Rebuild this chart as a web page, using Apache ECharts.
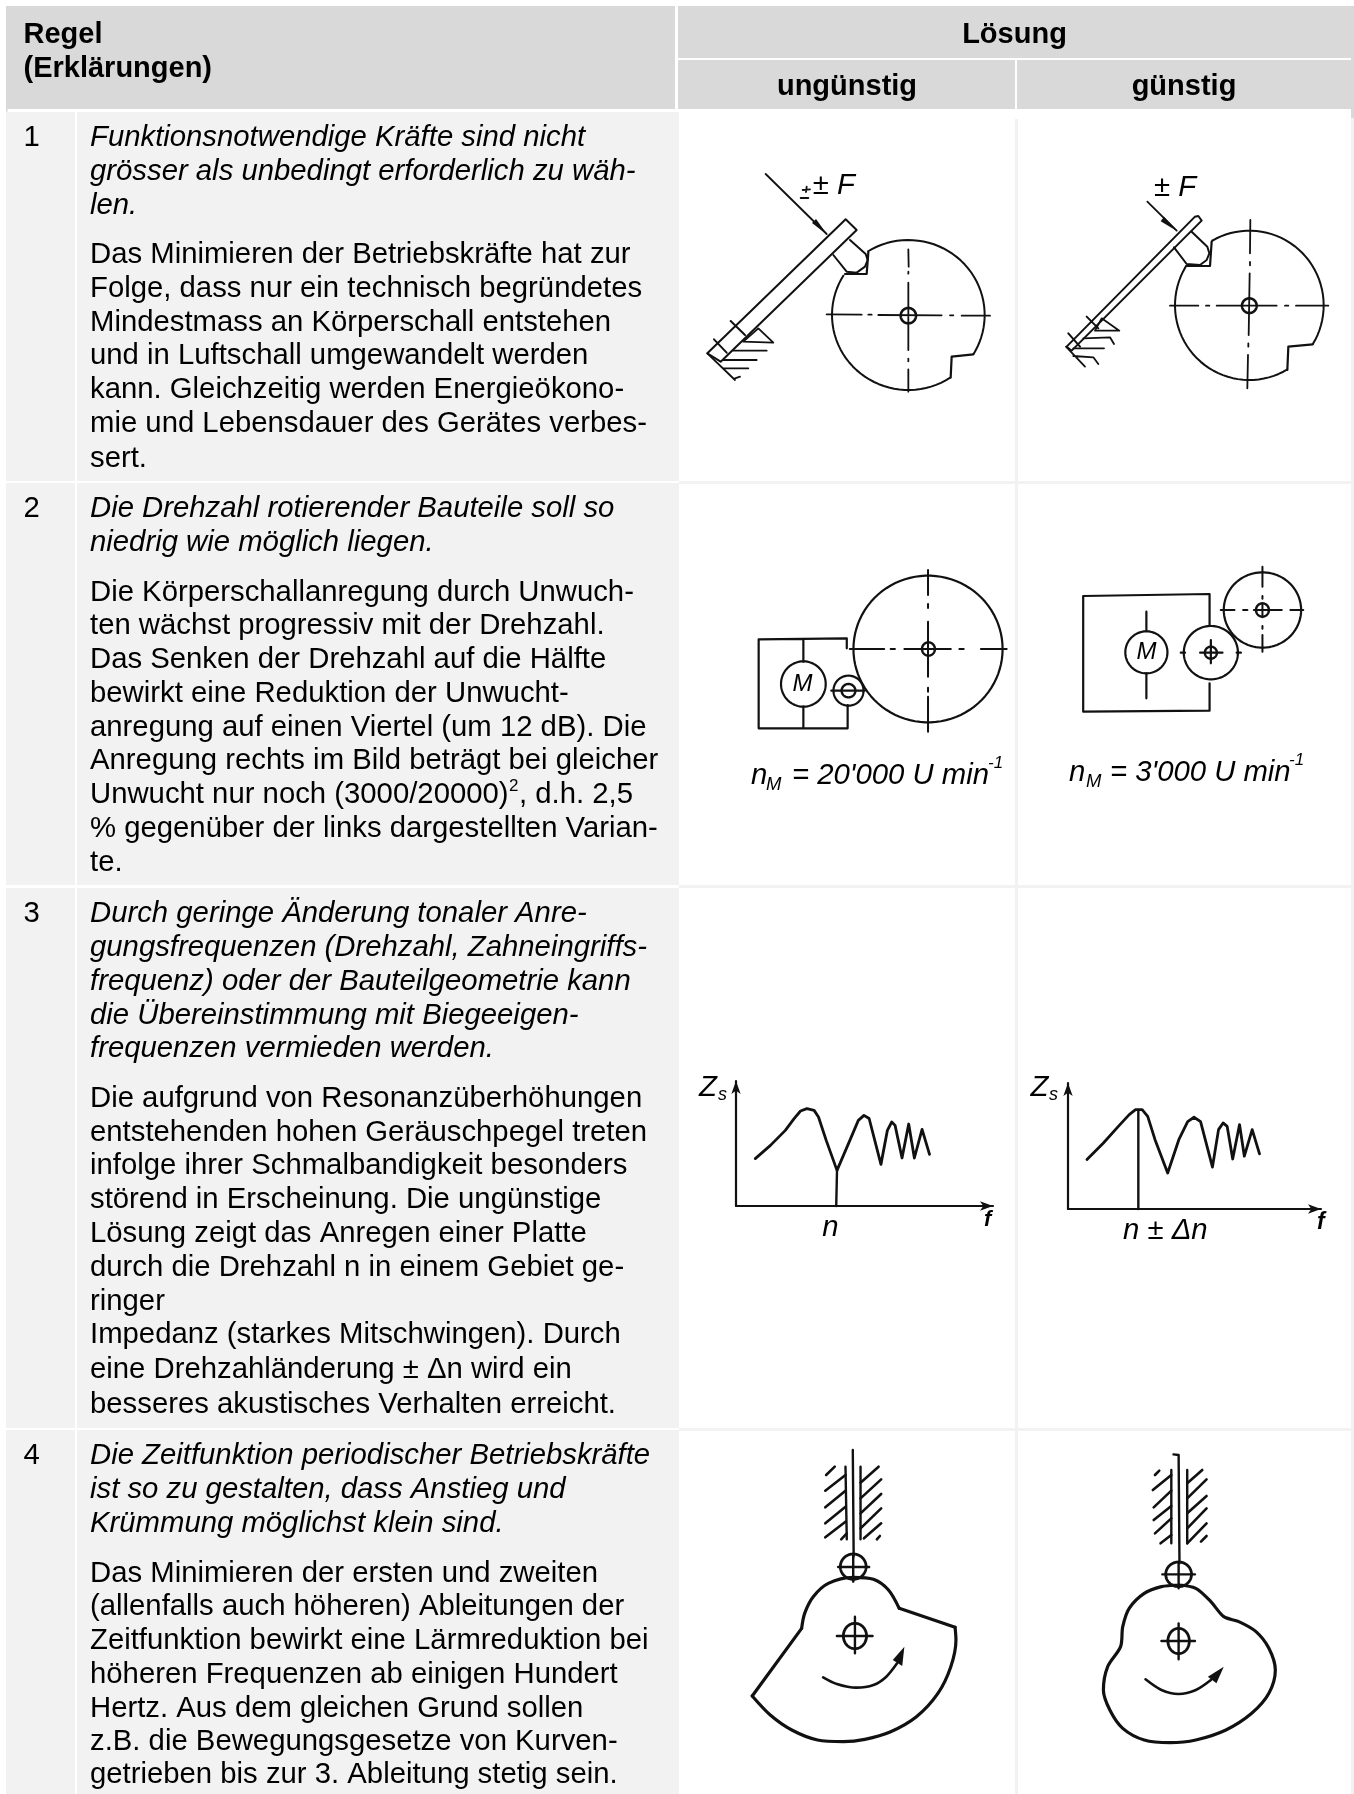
<!DOCTYPE html>
<html>
<head>
<meta charset="utf-8">
<style>html,body{margin:0;padding:0;background:#fff}#chart{width:1354px;height:1794px}</style>
<script src="https://cdn.jsdelivr.net/npm/echarts@6/dist/echarts.min.js"></script>
</head>
<body>
<div id="chart"></div>
<script>
// table text
const rowNumbers = ['1', '2', '3', '4']
const rule1Lead = ['Funktionsnotwendige Kräfte sind nicht', 'grösser als unbedingt erforderlich zu wäh-', 'len.']
const rule1Body = ['Das Minimieren der Betriebskräfte hat zur', 'Folge, dass nur ein technisch begründetes', 'Mindestmass an Körperschall entstehen', 'und in Luftschall umgewandelt werden', 'kann. Gleichzeitig werden Energieökono-', 'mie und Lebensdauer des Gerätes verbes-', 'sert.']
const rule2Lead = ['Die Drehzahl rotierender Bauteile soll so', 'niedrig wie möglich liegen.']
const rule2Body = ['Die Körperschallanregung durch Unwuch-', 'ten wächst progressiv mit der Drehzahl.', 'Das Senken der Drehzahl auf die Hälfte', 'bewirkt eine Reduktion der Unwucht-', 'anregung auf einen Viertel (um 12 dB). Die', 'Anregung rechts im Bild beträgt bei gleicher', 'Unwucht nur noch (3000/20000)', '% gegenüber der links dargestellten Varian-', 'te.']
const rule3Lead = ['Durch geringe Änderung tonaler Anre-', 'gungsfrequenzen (Drehzahl, Zahneingriffs-', 'frequenz) oder der Bauteilgeometrie kann', 'die Übereinstimmung mit Biegeeigen-', 'frequenzen vermieden werden.']
const rule3Body = ['Die aufgrund von Resonanzüberhöhungen', 'entstehenden hohen Geräuschpegel treten', 'infolge ihrer Schmalbandigkeit besonders', 'störend in Erscheinung. Die ungünstige', 'Lösung zeigt das Anregen einer Platte', 'durch die Drehzahl n in einem Gebiet ge-', 'ringer', 'Impedanz (starkes Mitschwingen). Durch', 'eine Drehzahländerung ± Δn wird ein', 'besseres akustisches Verhalten erreicht.']
const rule4Lead = ['Die Zeitfunktion periodischer Betriebskräfte', 'ist so zu gestalten, dass Anstieg und', 'Krümmung möglichst klein sind.']
const rule4Body = ['Das Minimieren der ersten und zweiten', '(allenfalls auch höheren) Ableitungen der', 'Zeitfunktion bewirkt eine Lärmreduktion bei', 'höheren Frequenzen ab einigen Hundert', 'Hertz. Aus dem gleichen Grund sollen', 'z.B. die Bewegungsgesetze von Kurven-', 'getrieben bis zur 3. Ableitung stetig sein.']

// row 3: impedance curves, axes run 0..100
const impedanceLeft = [[7.5,37.9],[13.4,48.5],[19.2,60.5],[22.6,69.9],[25.1,76],[27.6,77.9],[30.4,76.5],[32.1,71.2],[35.1,52.5],[39.3,28.5],[44.3,52.5],[47.6,68.5],[49.8,72.5],[51.8,70],[56.4,33.3],[58.9,60.5],[60.6,67.2],[61.9,64.5],[64.6,38.4],[67.2,65.6],[69.4,38.4],[72.4,61.3],[75.3,41.3]]
const impedanceRight = [[7.5,39.2],[14,52.4],[19.9,65.6],[24.2,74.9],[26.7,78.8],[29.3,78.8],[31.5,73.5],[34.4,55],[39.4,28.6],[43.8,55],[47.3,69.4],[49.8,72.8],[52.4,69.4],[57.1,33.3],[59.5,63],[61.3,68.3],[62.9,65.6],[65.1,39.7],[67.8,67],[69.7,41.9],[72.8,63],[75.7,43.7]]
const speedLeft = [[39,0],[39.3,28.5]]
const speedRight = [[27.8,0],[27.8,78.5]]

// drawings in row 1: shapes in crop units (0..960, 0..720)
const lever1L = [[[22,580],[437,178],[470,210],[62,605],[22,580]], [[92,483],[135,525]], [[42,538],[80,578]]]
const tappet1L = [[[450,240],[497,282],[503,300],[495,320],[470,338],[440,335],[400,285]]]
const force1L = [[[197,42],[380,222]], [[308,90],[330,88]], [[320,80],[318,96]], [[302,114],[325,114]]]
const hatch1L = [[[130,545],[175,505],[220,548],[130,545]], [[100,572],[200,572]], [[70,600],[170,600]], [[70,625],[145,625]], [[22,580],[105,660]], [[105,655],[120,650]]]
const notch1L = [[[505,277],[500,342],[435,342]], [[820,583],[755,590],[752,653]]]
const centre1L = [[[380,463],[485,464]], [[505,464],[515,464]], [[535,465],[725,466]], [[750,466],[760,466]], [[785,467],[870,467]], [[625,268],[626,320]], [[625,335],[625,341]], [[625,368],[625,570]], [[625,596],[625,604]], [[625,628],[625,695]]]
const lever1R = [[[495,170],[110,560],[125,572],[515,182],[505,168],[495,170]], [[170,470],[205,505]], [[115,520],[150,560]]]
const tappet1R = [[[485,215],[532,260],[538,280],[530,300],[510,315],[470,312],[432,262]]]
const force1R = [[[352,125],[440,212]]]
const hatch1R = [[[195,512],[215,475],[268,512],[195,512]], [[160,535],[240,532],[252,552]], [[130,565],[222,565]], [[130,588],[190,592],[205,612]], [[108,560],[165,620]]]
const notch1R = [[[545,245],[540,318],[470,318]], [[848,553],[775,560],[772,630]]]
const centre1R = [[[420,437],[505,437]], [[528,437],[538,437]], [[560,437],[740,437]], [[765,437],[775,437]], [[798,437],[895,437]], [[661,180],[660,280]], [[660,306],[660,316]], [[659,340],[656,525]], [[655,550],[655,560]], [[654,585],[652,685]]]
const discs1 = [[625,465,229,225,237.5,391.6], [625,465,229,225,56.7,212.3]]
const discs1b = [[658,436,223,224,239.5,391.6], [658,436,223,224,58.8,212.3]]
const holes1 = [[625,467,23,23,0,360]]
const holes1b = [[658,437,22,22,0,360]]
const arrowheads1 = [[382,224,348,177,336,189]]
const arrowheads1b = [[442,214,402,170,392,184]]

// drawings in row 2: shapes in crop units (0..1568, 0..930)
const gearbox2L = [[[388,385],[388,355],[183,358],[183,625],[390,625],[390,555]], [[287,360],[287,425]], [[287,560],[287,625]], [[352,512],[430,512]]]
const centre2L = [[[395,387],[475,387]], [[490,387],[500,387]], [[522,387],[630,387]], [[650,387],[660,387]], [[700,387],[760,387]], [[577,150],[577,225]], [[577,252],[577,264]], [[577,305],[577,470]], [[577,503],[577,515]], [[577,530],[577,635]]]
const gearbox2R = [[[1232,315],[1232,222],[938,228],[938,575],[1232,572],[1232,490]], [[1085,275],[1085,333]], [[1085,460],[1085,535]], [[1210,398],[1262,398]], [[1235,360],[1235,430]], [[1165,398],[1175,398]], [[1295,398],[1305,398]]]
const centre2R = [[[1258,270],[1290,270]], [[1310,270],[1320,270]], [[1335,270],[1400,270]], [[1420,270],[1450,270]], [[1355,140],[1355,200]], [[1355,228],[1355,236]], [[1355,250],[1355,292]], [[1355,318],[1355,326]], [[1355,345],[1355,395]]]
const circles2 = [[577,387,173.5,220,0,360], [287,492,52,68,0,360], [392,512,35,45,0,360], [1085,397,49,63,0,360], [1235,398,63,80,0,360], [1355,270,90,113,0,360]]
const holes2 = [[578,387,15,20,0,360], [392,512,16,20,0,360], [1235,398,14,18,0,360], [1355,270,15,20,0,360]]

// drawings in row 4: shapes in crop units (0..1568, 0..1122)
const followerL = [[[402,90],[404,410]], [[385,140],[388,358]], [[420,140],[420,358]], [[368,441],[440,441]], [[403,405],[403,485]], [[365,648],[448,648]], [[407,590],[407,700]]]
const hatchL = [[[360,140],[340,165]], [[385,165],[338,212]], [[385,212],[338,262]], [[385,260],[338,310]], [[385,305],[338,352]], [[388,340],[375,358]], [[462,140],[420,188]], [[468,178],[420,235]], [[468,222],[420,280]], [[468,265],[420,325]], [[468,310],[428,355]], [[465,348],[458,358]]]
const camFlatsL = [[[510,565],[640,622]], [[168,828],[283,625]]]
const camTopL = [[283,625],[290,580],[310,530],[345,490],[403,472],[450,478],[485,510],[510,565]]
const camBottomL = [[640,622],[642,660],[630,740],[600,820],[550,890],[490,935],[430,958],[380,965],[320,960],[260,930],[210,885],[168,828]]
const turnL = [[333,772],[365,792],[410,803],[450,795],[480,770],[505,730]]
const followerR = [[[1148,103],[1160,105],[1162,430]], [[1143,150],[1143,370]], [[1180,150],[1180,370]], [[1122,463],[1198,463]], [[1160,430],[1160,505]], [[1120,663],[1198,663]], [[1160,610],[1160,718]]]
const hatchR = [[[1115,152],[1105,165]], [[1143,165],[1100,210]], [[1143,212],[1102,262]], [[1143,258],[1102,300]], [[1143,295],[1105,340]], [[1143,345],[1118,370]], [[1215,150],[1180,190]], [[1225,178],[1180,235]], [[1225,228],[1180,280]], [[1225,265],[1180,325]], [[1225,310],[1180,370]], [[1225,348],[1212,365]]]
const camR = [[1160,495],[1200,505],[1235,545],[1265,590],[1300,605],[1340,635],[1370,685],[1385,750],[1370,820],[1330,880],[1270,930],[1200,960],[1140,968],[1080,960],[1030,925],[1000,870],[985,810],[995,740],[1025,680],[1030,620],[1045,565],[1080,520],[1120,500],[1160,495]]
const turnR = [[1083,778],[1120,810],[1160,822],[1200,810],[1235,780]]
const rollers4 = [[403,440,30,38,0,360], [407,648,27,38,0,360], [1160,463,30,37,0,360], [1160,663,25,38,0,360]]
const arrowheads4 = [[522,680,495,720,517,738], [1265,740,1228,770,1248,790]]

const chart = echarts.init(document.getElementById('chart'), null, { renderer: 'canvas' })

const sans = "'Liberation Sans', Arial, sans-serif"
const bodySize = 29.3
const headSize = 29
const INK = '#111'

function text(str, x, baseline, size, opts = {}) {
  const style = opts.italic ? 'italic ' : ''
  const weight = opts.bold ? 'bold ' : ''
  return {
    type: 'text',
    x,
    y: baseline - size * 0.3,
    silent: true,
    style: {
      text: str,
      font: style + weight + size + 'px ' + sans,
      fill: opts.color || '#000',
      textAlign: opts.align || 'left',
      textVerticalAlign: 'middle'
    }
  }
}

function block(lines, baselines, italic) {
  return lines.map((l, i) => text(l, 90, baselines[i], bodySize, { italic }))
}

function rect(x0, y0, x1, y1, fill) {
  return { type: 'rect', silent: true, shape: { x: x0, y: y0, width: x1 - x0, height: y1 - y0 }, style: { fill } }
}

const tableCells = [
  rect(6, 6, 675, 109, '#d9d9d9'),
  rect(6, 109, 7.5, 119, '#d9d9d9'),
  rect(678, 6, 1351, 58, '#d9d9d9'),
  rect(678, 60, 1015, 109, '#d9d9d9'),
  rect(1017, 60, 1351, 109, '#d9d9d9'),
  rect(1351, 6, 1354, 118, '#d9d9d9'),
  rect(1351, 118, 1354, 1794, '#f2f2f2'),
  rect(6, 112, 75, 481, '#f2f2f2'), rect(77, 112, 679, 481, '#f2f2f2'),
  rect(6, 483, 75, 885, '#f2f2f2'), rect(77, 483, 679, 885, '#f2f2f2'),
  rect(6, 888, 75, 1428, '#f2f2f2'), rect(77, 888, 679, 1428, '#f2f2f2'),
  rect(6, 1430, 75, 1794, '#f2f2f2'), rect(77, 1430, 679, 1794, '#f2f2f2'),
  rect(1015, 119, 1018, 1794, '#f2f2f2'),
  rect(679, 481, 1351, 484, '#f2f2f2'),
  rect(679, 885, 1351, 888, '#f2f2f2'),
  rect(679, 1428, 1351, 1431, '#f2f2f2')
]

const tableText = [
  text('Regel', 23.5, 43.5, headSize, { bold: true }),
  text('(Erklärungen)', 23.5, 77.5, headSize, { bold: true }),
  text('Lösung', 1014.5, 43.5, headSize, { bold: true, align: 'center' }),
  text('ungünstig', 847, 96, headSize, { bold: true, align: 'center' }),
  text('günstig', 1184, 96, headSize, { bold: true, align: 'center' }),
  text(rowNumbers[0], 23.5, 146.7, bodySize),
  text(rowNumbers[1], 23.5, 517.3, bodySize),
  text(rowNumbers[2], 23.5, 922.9, bodySize),
  text(rowNumbers[3], 23.5, 1464.3, bodySize),
  ...block(rule1Lead, [146.7, 180.7, 215], true),
  ...block(rule1Body, [263.3, 297.3, 331.7, 365, 399, 432.7, 467.3], false),
  ...block(rule2Lead, [517.3, 551.7], true),
  ...block(rule2Body, [601.7, 635, 668.3, 702.3, 736.7, 770, 803.3, 837.3, 871.7], false),
  text('2', 509, 791.5, 17),
  text(', d.h. 2,5', 519, 803.3, bodySize),
  ...block(rule3Lead, [922.9, 956.8, 990.7, 1024.6, 1057.5], true),
  ...block(rule3Body, [1107.5, 1141.8, 1174.6, 1208.6, 1242.5, 1276.4, 1310.4, 1343.6, 1378.9, 1413.9], false),
  ...block(rule4Lead, [1464.3, 1498.3, 1532.7], true),
  ...block(rule4Body, [1582.3, 1615.7, 1649.3, 1683.3, 1717.3, 1750.7, 1784], false)
]

const drawingText = [
  text('± F', 812.7, 195, bodySize, { italic: true }),
  text('± F', 1154, 197, bodySize, { italic: true }),
  text('M', 802.5, 692, 24, { italic: true, align: 'center' }),
  text('M', 1146.5, 660, 24, { italic: true, align: 'center' }),
  text('n', 751, 785, bodySize, { italic: true }),
  text('M', 766, 790, 18.5, { italic: true }),
  text("= 20'000 U min", 792, 785, bodySize, { italic: true }),
  text('-1', 988, 768, 17, { italic: true }),
  text('n', 1069, 781.7, bodySize, { italic: true }),
  text('M', 1086, 787, 18.5, { italic: true }),
  text("= 3'000 U min", 1110, 781.7, bodySize, { italic: true }),
  text('-1', 1289, 765, 17, { italic: true }),
  text('Z', 699, 1096.7, bodySize, { italic: true }),
  text('s', 718, 1100.7, 18, { italic: true }),
  text('f', 984, 1227, 22, { italic: true, bold: true }),
  text('n', 830.5, 1236.7, bodySize, { italic: true, align: 'center' }),
  text('Z', 1030.4, 1096.7, bodySize, { italic: true }),
  text('s', 1049, 1100.7, 18, { italic: true }),
  text('f', 1317, 1230, 23, { italic: true, bold: true }),
  text('n ± Δn', 1123, 1240, bodySize, { italic: true })
]

// one line series per group of strokes, broken with empty points
const GAP = [NaN, NaN]
function ink(grid, strokes, width, smooth) {
  const data = []
  strokes.forEach((s, i) => {
    if (i) data.push(GAP)
    s.forEach(p => data.push(p))
  })
  return {
    type: 'line',
    xAxisIndex: grid,
    yAxisIndex: grid,
    data,
    symbol: 'none',
    silent: true,
    animation: false,
    clip: false,
    smooth: smooth || false,
    lineStyle: { color: INK, width, cap: 'round', join: 'round' }
  }
}

// ellipse and arc outlines: [cx, cy, rx, ry, startDeg, endDeg]
function arcs(grid, items, width) {
  return {
    type: 'custom',
    xAxisIndex: grid,
    yAxisIndex: grid,
    silent: true,
    animation: false,
    clip: false,
    data: items,
    encode: { x: 0, y: 1 },
    renderItem(params, api) {
      const a0 = api.value(4)
      const a1 = api.value(5)
      const at = a => {
        const t = a * Math.PI / 180
        return api.coord([api.value(0) + api.value(2) * Math.cos(t), api.value(1) + api.value(3) * Math.sin(t)])
      }
      const points = []
      for (let a = a0; a < a1; a += 4) points.push(at(a))
      points.push(at(a1))
      return { type: 'polyline', shape: { points }, style: { fill: 'none', stroke: INK, lineWidth: width, lineJoin: 'round' } }
    }
  }
}

function heads(grid, items) {
  return {
    type: 'custom',
    xAxisIndex: grid,
    yAxisIndex: grid,
    silent: true,
    animation: false,
    clip: false,
    data: items,
    encode: { x: 0, y: 1 },
    renderItem(params, api) {
      const points = [0, 2, 4].map(i => api.coord([api.value(i), api.value(i + 1)]))
      return { type: 'polygon', shape: { points }, style: { fill: INK } }
    }
  }
}

// grids: 0 row 1 left, 1 row 1 right, 2 row 2, 3 row 4, 4 and 5 the impedance charts
const panels = [
  { left: 700, top: 160, width: 320, height: 240, xMax: 960, yMax: 720 },
  { left: 1030, top: 160, width: 320, height: 240, xMax: 960, yMax: 720 },
  { left: 680, top: 520, width: 674, height: 310, xMax: 1568, yMax: 930 },
  { left: 680, top: 1420, width: 674, height: 374, xMax: 1568, yMax: 1122 }
]
const charts = [
  { left: 736, top: 1081, width: 257, height: 125 },
  { left: 1068, top: 1083, width: 253, height: 126 }
]
const hiddenAxis = p => ({ type: 'value', show: false, min: 0, max: p })
const arrowAxis = {
  type: 'value',
  min: 0,
  max: 100,
  axisLine: { show: true, symbol: ['none', 'arrow'], symbolSize: [7, 13], lineStyle: { color: INK, width: 2.2 } },
  axisTick: { show: false },
  axisLabel: { show: false },
  splitLine: { show: false }
}

chart.setOption({
  animation: false,
  backgroundColor: '#fff',
  graphic: { elements: [...tableCells, ...tableText, ...drawingText] },
  grid: [...panels, ...charts].map(g => ({ left: g.left, top: g.top, width: g.width, height: g.height, containLabel: false })),
  xAxis: [
    ...panels.map((p, i) => ({ ...hiddenAxis(p.xMax), gridIndex: i })),
    { ...arrowAxis, gridIndex: 4 },
    { ...arrowAxis, gridIndex: 5 }
  ],
  yAxis: [
    ...panels.map((p, i) => ({ ...hiddenAxis(p.yMax), gridIndex: i, inverse: true })),
    { ...arrowAxis, gridIndex: 4 },
    { ...arrowAxis, gridIndex: 5 }
  ],
  series: [
    ink(0, lever1L, 2), ink(0, tappet1L, 2), ink(0, force1L, 1.8), ink(0, hatch1L, 1.8),
    ink(0, notch1L, 2.2), ink(0, centre1L, 1.8),
    arcs(0, discs1, 2), arcs(0, holes1, 2.6), heads(0, arrowheads1),
    ink(1, lever1R, 2), ink(1, tappet1R, 2), ink(1, force1R, 1.8), ink(1, hatch1R, 1.8),
    ink(1, notch1R, 2.2), ink(1, centre1R, 1.8),
    arcs(1, discs1b, 2), arcs(1, holes1b, 2.6), heads(1, arrowheads1b),
    ink(2, gearbox2L, 2.2), ink(2, centre2L, 2), ink(2, gearbox2R, 2.2), ink(2, centre2R, 2),
    arcs(2, circles2, 2.2), arcs(2, holes2, 2.4),
    ink(3, followerL, 2.4), ink(3, hatchL, 2.6), ink(3, camFlatsL, 3.2),
    ink(3, [camTopL, camBottomL], 3.2, 0.3), ink(3, [turnL], 2.6, 0.3),
    ink(3, followerR, 2.4), ink(3, hatchR, 2.6),
    ink(3, [camR], 3.2, 0.3), ink(3, [turnR], 2.6, 0.3),
    arcs(3, rollers4, 2.8), heads(3, arrowheads4),
    ink(4, [impedanceLeft], 2.8), ink(4, [speedLeft], 2.4),
    ink(5, [impedanceRight], 2.8), ink(5, [speedRight], 2.4)
  ]
})
</script>
</body>
</html>
